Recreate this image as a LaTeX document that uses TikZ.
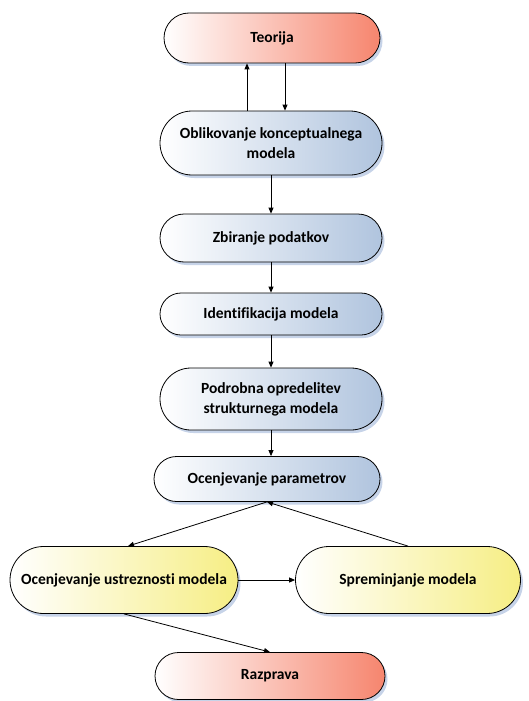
\documentclass[tikz,border=0pt]{standalone}
\usepackage{fontspec}
\setmainfont[Ligatures=NoCommon]{Carlito}
\usetikzlibrary{shapes.misc,shadows,arrows.meta,calc}
\definecolor{stepblue}{HTML}{B0C4DE}
\definecolor{stepred}{HTML}{F6856E}
\definecolor{stepyellow}{HTML}{F6EE84}
\definecolor{shadowblue}{HTML}{C6D3E8}
\tikzset{
  stage/.style={rounded rectangle, draw=black, line width=0.8pt,
    font=\bfseries\fontsize{15.5}{20}\selectfont, align=center, inner sep=2pt,
    drop shadow={shadow xshift=2.5pt, shadow yshift=-3pt, fill=shadowblue, opacity=1}},
  bluestage/.style={stage, left color=white, right color=stepblue},
  redstage/.style={stage, left color=white, right color=stepred},
  yellowstage/.style={stage, left color=white, right color=stepyellow},
  arr/.style={-{Triangle[length=6pt,width=5pt]}, line width=0.8pt, black},
}
\begin{document}
\begin{tikzpicture}[x=1pt,y=-1pt]
  \useasboundingbox (0,0) rectangle (528,701);
  \node[redstage, minimum width=220pt, minimum height=50pt] (teo) at (272,38) {Teorija};
  \node[bluestage, minimum width=226pt, minimum height=64pt] (obl) at (271,143) {Oblikovanje konceptualnega\\modela};
  \node[bluestage, minimum width=226pt, minimum height=48pt] (zbi) at (271,238) {Zbiranje podatkov};
  \node[bluestage, minimum width=226pt, minimum height=42pt] (ide) at (271,314) {Identifikacija modela};
  \node[bluestage, minimum width=226pt, minimum height=62pt] (pod) at (271,399) {Podrobna opredelitev\\strukturnega modela};
  \node[bluestage, minimum width=230pt, minimum height=45pt] (par) at (267,479) {Ocenjevanje parametrov};
  \node[yellowstage, minimum width=232pt, minimum height=67pt] (ust) at (124,580) {Ocenjevanje ustreznosti modela};
  \node[yellowstage, minimum width=229pt, minimum height=67pt] (spr) at (408,580) {Spreminjanje modela};
  \node[redstage, minimum width=234pt, minimum height=47pt] (raz) at (270,676) {Razprava};

  % feedback loop between theory and the conceptual model
  \draw[arr] ([xshift=-24pt]obl.north) -- ([xshift=-24pt]obl.north |- teo.south);
  \draw[arr] ([xshift=13pt]teo.south) -- ([xshift=13pt]teo.south |- obl.north);
  % main sequence
  \draw[arr] (obl.south) -- (zbi.north);
  \draw[arr] (zbi.south) -- (ide.north);
  \draw[arr] (ide.south) -- (pod.north);
  \draw[arr] (pod.south) -- (pod.south |- par.north);
  % evaluation and modification cycle
  \draw[arr] (par.south) -- ([xshift=4pt]ust.north);
  \draw[arr] (ust.east) -- (spr.west);
  \draw[arr] (spr.north) -- (par.south);
  \draw[arr] (ust.south) -- (raz.north);
\end{tikzpicture}
\end{document}
